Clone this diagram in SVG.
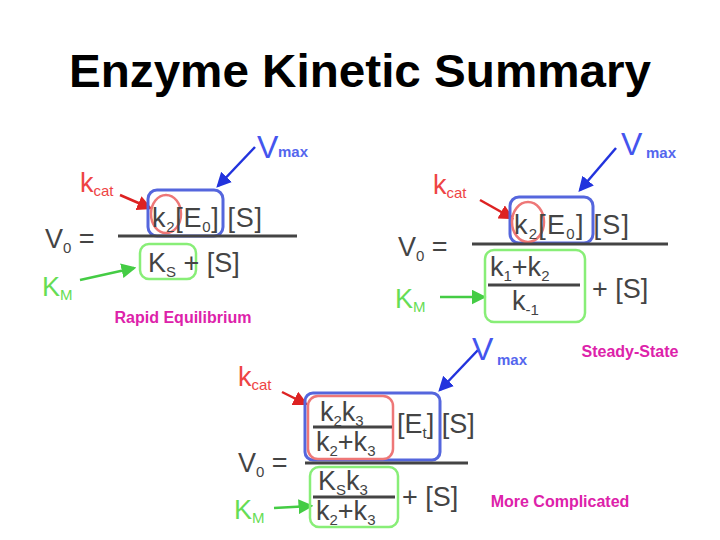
<svg xmlns="http://www.w3.org/2000/svg" width="720" height="540" viewBox="0 0 720 540">
<defs>
<marker id="ab" markerWidth="6" markerHeight="6" refX="5" refY="3" orient="auto" markerUnits="strokeWidth"><path d="M0,0 L6,3 L0,6 z" fill="#2233dd"/></marker>
<marker id="ar" markerWidth="6" markerHeight="6" refX="5" refY="3" orient="auto" markerUnits="strokeWidth"><path d="M0,0 L6,3 L0,6 z" fill="#dd2222"/></marker>
<marker id="ag" markerWidth="6" markerHeight="6" refX="5" refY="3" orient="auto" markerUnits="strokeWidth"><path d="M0,0 L6,3 L0,6 z" fill="#44cc44"/></marker>
</defs>
<style>
text{font-family:"Liberation Sans",Arial,sans-serif}
.eq{fill:#444;font-size:27px}
.sub{font-size:15px}
.vm{fill:#4455ee;font-size:32px}
.mx{fill:#5566ee;font-size:15px;font-weight:bold}
.kc{fill:#ee4444;font-size:27px}
.km{fill:#66dd55;font-size:27px}
.lab{fill:#dd22aa;font-size:16px;font-weight:bold}
.bb{fill:none;stroke:#5566dd;stroke-width:3}
.rb{fill:none;stroke:#ee7777;stroke-width:2.5}
.gb{fill:none;stroke:#88ee77;stroke-width:2.5}
.ln{stroke:#444;stroke-width:3}
.cb{stroke:#2233dd;stroke-width:2.5;fill:none}
.cr{stroke:#dd2222;stroke-width:2.5;fill:none}
.cg{stroke:#44cc44;stroke-width:2.5;fill:none}
</style>
<rect width="720" height="540" fill="#fff"/>
<text x="360" y="87" text-anchor="middle" font-size="46" font-weight="bold" fill="#000" textLength="582" lengthAdjust="spacingAndGlyphs">Enzyme Kinetic Summary</text>

<g id="connectors">
<line class="cb" x1="255" y1="147" x2="218" y2="186" marker-end="url(#ab)"/>
<line class="cr" x1="120" y1="195" x2="150" y2="208" marker-end="url(#ar)"/>
<line class="cg" x1="80" y1="280" x2="134" y2="268" marker-end="url(#ag)"/>
<line class="cb" x1="616" y1="148" x2="580" y2="190" marker-end="url(#ab)"/>
<line class="cr" x1="480" y1="200" x2="512" y2="218" marker-end="url(#ar)"/>
<line class="cg" x1="440" y1="297" x2="484" y2="297" marker-end="url(#ag)"/>
<line class="cb" x1="478" y1="350" x2="440" y2="390" marker-end="url(#ab)"/>
<line class="cr" x1="282" y1="392" x2="306" y2="404" marker-end="url(#ar)"/>
<line class="cg" x1="274" y1="508" x2="311" y2="506" marker-end="url(#ag)"/>
</g>

<g id="rapid">
<text x="257" y="158" class="vm">V</text><text x="278" y="157" class="mx">max</text>
<text x="80" y="192" class="kc">k<tspan class="sub" dy="4">cat</tspan></text>
<rect class="bb" x="148" y="190" width="75" height="46" rx="9"/>
<ellipse class="rb" cx="166" cy="214" rx="15" ry="19"/>
<text x="152" y="227" class="eq" textLength="110">k<tspan class="sub" dy="5">2</tspan><tspan dy="-5">[E</tspan><tspan class="sub" dy="5">0</tspan><tspan dy="-5">] [S]</tspan></text>
<text x="45" y="248" class="eq">V<tspan class="sub" dy="5">0</tspan><tspan dy="-5"> =</tspan></text>
<line class="ln" x1="118" y1="236" x2="297" y2="236"/>
<rect class="gb" x="140" y="244" width="56" height="35" rx="9"/>
<text x="148" y="272" class="eq">K<tspan class="sub" dy="5">S</tspan><tspan dy="-5">  +  [S]</tspan></text>
<text x="42" y="296" class="km">K<tspan class="sub" dy="4">M</tspan></text>
<text x="183" y="323" text-anchor="middle" class="lab">Rapid Equilibrium</text>
</g>

<g id="steady">
<text x="621" y="155" class="vm">V</text><text x="646" y="158" class="mx">max</text>
<text x="433" y="194" class="kc">k<tspan class="sub" dy="4">cat</tspan></text>
<rect class="bb" x="510" y="197" width="83" height="46" rx="9"/>
<ellipse class="rb" cx="528" cy="222" rx="16" ry="20"/>
<text x="514" y="234" class="eq" textLength="115">k<tspan class="sub" dy="5">2</tspan><tspan dy="-5">[E</tspan><tspan class="sub" dy="5">0</tspan><tspan dy="-5">] [S]</tspan></text>
<text x="398" y="256" class="eq">V<tspan class="sub" dy="5">0</tspan><tspan dy="-5"> =</tspan></text>
<line class="ln" x1="472" y1="244" x2="668" y2="244"/>
<rect class="gb" x="485" y="250" width="100" height="72" rx="9"/>
<text x="490" y="276" class="eq">k<tspan class="sub" dy="5">1</tspan><tspan dy="-5">+k</tspan><tspan class="sub" dy="5">2</tspan></text>
<line class="ln" x1="488" y1="285" x2="580" y2="285"/>
<text x="512" y="310" class="eq">k<tspan class="sub" dy="5">-1</tspan></text>
<text x="592" y="298" class="eq">+ [S]</text>
<text x="395" y="308" class="km">K<tspan class="sub" dy="4">M</tspan></text>
<text x="630" y="357" text-anchor="middle" class="lab">Steady-State</text>
</g>

<g id="complicated">
<text x="472" y="360" class="vm">V</text><text x="497" y="365" class="mx">max</text>
<text x="238" y="386" class="kc">k<tspan class="sub" dy="4">cat</tspan></text>
<rect class="bb" x="305" y="393" width="135" height="67" rx="8"/>
<rect class="rb" x="308" y="396" width="85" height="63" rx="10"/>
<text x="320" y="421" class="eq">k<tspan class="sub" dy="5">2</tspan><tspan dy="-5">k</tspan><tspan class="sub" dy="5">3</tspan></text>
<line class="ln" x1="313" y1="427" x2="392" y2="427"/>
<text x="316" y="451" class="eq">k<tspan class="sub" dy="5">2</tspan><tspan dy="-5">+k</tspan><tspan class="sub" dy="5">3</tspan></text>
<text x="397" y="433" class="eq">[E<tspan class="sub" dy="5">t</tspan><tspan dy="-5">] [S]</tspan></text>
<text x="238" y="472" class="eq">V<tspan class="sub" dy="5">0</tspan><tspan dy="-5"> =</tspan></text>
<line class="ln" x1="305" y1="463" x2="468" y2="463"/>
<rect class="gb" x="310" y="467" width="88" height="60" rx="9"/>
<text x="318" y="490" class="eq">K<tspan class="sub" dy="5">S</tspan><tspan dy="-5">k</tspan><tspan class="sub" dy="5">3</tspan></text>
<line class="ln" x1="313" y1="497" x2="395" y2="497"/>
<text x="316" y="520" class="eq">k<tspan class="sub" dy="5">2</tspan><tspan dy="-5">+k</tspan><tspan class="sub" dy="5">3</tspan></text>
<text x="402" y="506" class="eq">+ [S]</text>
<text x="234" y="519" class="km">K<tspan class="sub" dy="4">M</tspan></text>
<text x="560" y="507" text-anchor="middle" class="lab">More Complicated</text>
</g>
</svg>
